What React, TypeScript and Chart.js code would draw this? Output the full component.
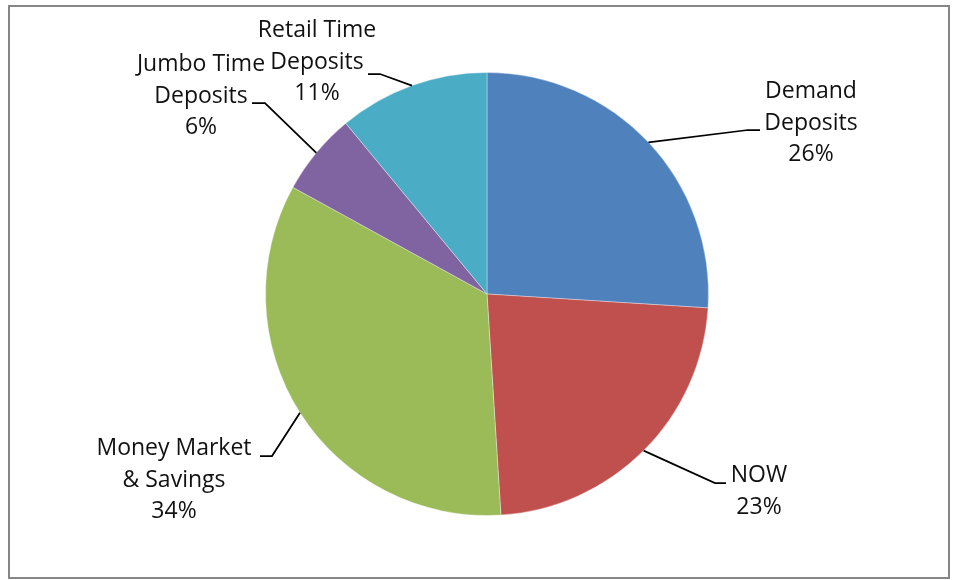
import React, { useEffect, useRef } from "react";
import { Chart, registerables } from "chart.js";

Chart.register(...registerables);

const categories = [
  "Demand Deposits",
  "NOW",
  "Money Market & Savings",
  "Jumbo Time Deposits",
  "Retail Time Deposits",
];
const values = [26, 23, 34, 6, 11];
const labelLines = [
  ["Demand", "Deposits", "26%"],
  ["NOW", "23%"],
  ["Money Market", "& Savings", "34%"],
  ["Jumbo Time", "Deposits", "6%"],
  ["Retail Time", "Deposits", "11%"],
];
const colors = ["#4F81BD", "#C0504D", "#9BBB59", "#8064A2", "#4BACC6"];

// label layout: text center x, first baseline y, elbow point, end point
const labelLayout = [
  { cx: 811, by: 98, elbow: [748, 130], end: [760, 130] },
  { cx: 759, by: 482, elbow: [715, 483], end: [726, 483] },
  { cx: 174, by: 455, elbow: [272, 456], end: [260, 456] },
  { cx: 201, by: 71, elbow: [265, 103], end: [252, 103] },
  { cx: 317, by: 37, elbow: [380, 74], end: [368, 74] },
];

const FONT = '23px "Open Sans"';
const LINE_H = 31.5;

const labelPlugin = {
  id: "pieLabels",
  afterDraw(chart: any) {
    const ctx = chart.ctx;
    ctx.save();
    // frame
    ctx.strokeStyle = "#868686";
    ctx.lineWidth = 2;
    ctx.strokeRect(9, 6, 940, 572);

    const meta = chart.getDatasetMeta(0);
    meta.data.forEach((arc: any, i: number) => {
      const p = arc.getProps(["x", "y", "startAngle", "endAngle", "outerRadius"], true);
      const mid = (p.startAngle + p.endAngle) / 2;
      const sx = p.x + Math.cos(mid) * p.outerRadius;
      const sy = p.y + Math.sin(mid) * p.outerRadius;
      const L = labelLayout[i];
      ctx.strokeStyle = "#000";
      ctx.lineWidth = 1.75;
      ctx.beginPath();
      ctx.moveTo(sx, sy);
      ctx.lineTo(L.elbow[0], L.elbow[1]);
      ctx.lineTo(L.end[0], L.end[1]);
      ctx.stroke();

      ctx.fillStyle = "#111";
      ctx.font = FONT;
      ctx.textAlign = "center";
      ctx.textBaseline = "alphabetic";
      labelLines[i].forEach((t, k) => {
        ctx.fillText(t, L.cx, L.by + k * LINE_H);
      });
    });
    ctx.restore();
  },
};

export default function App() {
  const ref = useRef<HTMLCanvasElement | null>(null);
  useEffect(() => {
    document.body.style.margin = "0";
    const chart = new Chart(ref.current as HTMLCanvasElement, {
      type: "pie",
      data: {
        labels: categories,
        datasets: [
          {
            data: values,
            backgroundColor: colors,
            borderColor: "rgba(255,255,255,0.35)",
            borderWidth: 1,
          },
        ],
      },
      options: {
        responsive: false,
        animation: false,
        layout: { padding: { left: 265, right: 245, top: 72, bottom: 64 } },
        plugins: {
          legend: { display: false },
          tooltip: { enabled: false },
        },
      },
      plugins: [labelPlugin],
    });
    return () => chart.destroy();
  }, []);
  return (
    <div style={{ position: "fixed", left: 0, top: 0, width: 954, height: 580, background: "#fff" }}>
      <canvas ref={ref} width={954} height={580} style={{ width: 954, height: 580 }} />
    </div>
  );
}
